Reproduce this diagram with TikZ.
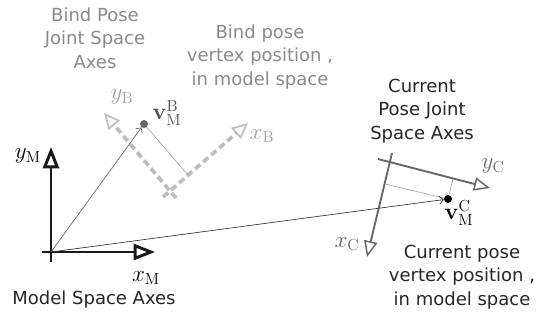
\documentclass[tikz,border=0pt]{standalone}
\usepackage[no-math]{fontspec}
\setmainfont{DejaVu Sans}
\usepackage{amsmath,amssymb}
\usepackage{xcolor}
\usepackage{tikz}
\usetikzlibrary{arrows.meta,positioning,calc}

\definecolor{txtgray}{HTML}{8A8A8A}
\definecolor{bindgray}{HTML}{BDBDBD}
\definecolor{curgray}{HTML}{666666}

\begin{document}
\begin{tikzpicture}[x=0.75pt,y=-0.75pt,>=Stealth]
\tikzstyle{txt}=[font=\fontsize{13.5}{17.5}\selectfont,align=center,text=black!85,inner sep=0]
\tikzstyle{lbl}=[font=\fontsize{17.28}{19}\selectfont,inner sep=0]
\tikzstyle{modelax}=[line width=2.2pt,black!90,-{Triangle[open,length=16pt,width=12pt]}]
\tikzstyle{bindax}=[line width=2.8pt,bindgray,dash pattern=on 5pt off 3pt,-{Triangle[open,length=12pt,width=11pt,line width=1.3pt]}]
\tikzstyle{curax}=[line width=1.4pt,curgray,-{Triangle[open,length=12pt,width=10pt,line width=1.1pt]}]
\tikzstyle{thin}=[line width=0.5pt,-{Straight Barb[length=3pt,width=6pt]}]
\tikzstyle{perp}=[line width=0.5pt,black!35]
\tikzstyle{dot}=[circle,inner sep=0,minimum size=6pt]
\useasboundingbox (0,0) rectangle (538,321);

% model space axes
\coordinate (om) at (51,252);
\coordinate (omx) at (42,252);
\coordinate (omy) at (51,262);
\coordinate (xm) at (155,252);
\coordinate (ym) at (51,147);
\draw[modelax] (omx) -- (xm);
\draw[modelax] (omy) -- (ym);
\node[lbl] (xmlbl) at (146,278) {$x_{\mathrm{M}}$};
\node[lbl] (ymlbl) at (28,156) {$y_{\mathrm{M}}$};
\node[txt] (mtitle) at (94,300) {Model Space Axes};

% bind pose joint axes
\coordinate (ob) at (170,191);
\coordinate (obx) at (176,198);
\coordinate (oby) at (163,197);
\coordinate (xb) at (248,123);
\coordinate (yb) at (104,113);
\draw[bindax] (oby) -- (xb);
\draw[bindax] (obx) -- (yb);
\node[lbl,text=bindgray!85!black] (xblbl) at (262,136) {$x_{\mathrm{B}}$};
\node[lbl,text=bindgray!85!black] (yblbl) at (122,97) {$y_{\mathrm{B}}$};
\node[txt,text=txtgray] (btitle) at (95,38) {Bind Pose\\Joint Space\\Axes};

% bind pose vertex
\node[dot,fill=black!60] (vb) at (144,124) {};
\coordinate (fb) at (188,175);
\draw[perp] (vb) -- (fb);
\draw[thin,black!60] (om) -- (vb);
\node[lbl,text=black!70] (vblbl) at (167,113) {$\mathbf{v}_{\mathrm{M}}^{\mathrm{B}}$};
\node[txt,text=txtgray] (bvtxt) at (260,57) {Bind pose\\vertex position ,\\in model space};

% current pose joint axes
\coordinate (oc) at (390,162);
\coordinate (ocx) at (392,153);
\coordinate (ocy) at (378,159);
\coordinate (xc) at (367,257);
\coordinate (yc) at (490,188);
\draw[curax] (ocx) -- (xc);
\draw[curax] (ocy) -- (yc);
\node[lbl,text=curgray] (xclbl) at (347,244) {$x_{\mathrm{C}}$};
\node[lbl,text=curgray] (yclbl) at (493,166) {$y_{\mathrm{C}}$};
\node[txt] (ctitle) at (422,111) {Current\\Pose Joint\\Space Axes};

% current pose vertex
\node[dot,fill=black] (vc) at (448,199) {};
\coordinate (fcx) at (385,184);
\coordinate (fcy) at (453,179);
\draw[perp] (fcx) -- (vc);
\draw[perp] (vc) -- (fcy);
\draw[thin,black!80] (om) -- (vc);
\node[lbl] (vclbl) at (459,213) {$\mathbf{v}_{\mathrm{M}}^{\mathrm{C}}$};
\node[txt] (cvtxt) at (462,277) {Current pose\\vertex position ,\\in model space};
\end{tikzpicture}
\end{document}
